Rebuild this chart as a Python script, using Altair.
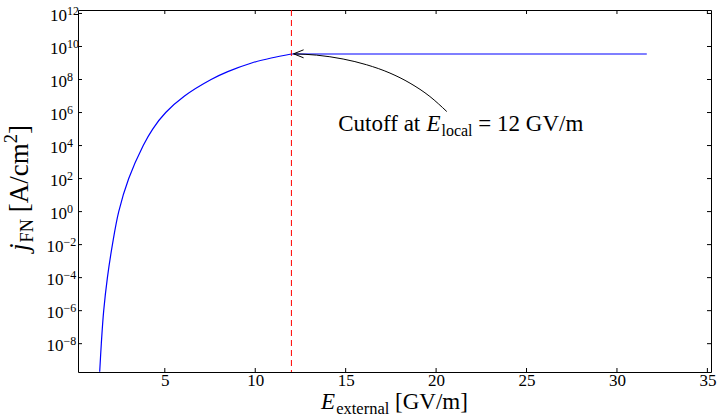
import altair as alt
import pandas as pd

# ---- data ----
E_rise = [1.40, 1.489, 1.621, 1.826, 2.103, 2.452, 3.005, 3.807, 4.33, 5.05, 6.09,
          7.559, 8.48, 9.80, 10.88, 12.0]
j_rise = [2.0e-10, 1e-8, 1e-6, 1e-4, 1e-2, 1.0, 1e2, 1e4, 1e5, 1e6, 1e7,
          1e8, 3.0e8, 1.0e9, 2.0e9, 3.5e9]
E_flat = [12.0, 31.65]
j_flat = [3.5e9, 3.5e9]

cutoff_E = 12
x_ticks = [5, 10, 15, 20, 25, 30, 35]
y_exps = [-8, -6, -4, -2, 0, 2, 4, 6, 8, 10, 12]

arrow_E = [20.59, 19.66, 18.56, 17.45, 16.16, 14.86, 13.39, 12.12]
arrow_j = [1.15e6, 9.3e6, 6.0e7, 2.45e8, 7.8e8, 1.74e9, 3.0e9, 3.6e9]
tip_E = [12.12]
tip_j = [3.6e9]
label_E = [14.59]
label_j = [8.1e4]

# ---- layout / style ----
W, H = 633, 362
FONT = "'Liberation Serif', 'Times New Roman', 'DejaVu Serif', serif"
xscale = alt.Scale(domain=[0.2, 35.2], nice=False, zero=False)
yscale = alt.Scale(type="log", domain=[10 ** -9.715, 10 ** 12.21], nice=False)
xaxis = alt.Axis(values=x_ticks, title=None, domain=False, ticks=False, grid=False,
                 labelFont=FONT, labelFontSize=17, labelColor="black", labelPadding=0)

# Times-like advance widths (per 1000 em) for composing mixed-style texts
CW = {' ': 250, '[': 333, ']': 333, '/': 278, '=': 564, 'A': 722, 'C': 667, 'E': 611,
      'F': 556, 'G': 722, 'N': 722, 'V': 722, 'a': 444, 'c': 444, 'e': 444, 'f': 333,
      'l': 278, 'm': 778, 'n': 500, 'o': 500, 'r': 333, 't': 278, 'u': 500, 'x': 500,
      'j': 278}
for d in "0123456789":
    CW[d] = 500


def tw(s, size):
    return sum(CW[c] for c in s) / 1000 * size


def compose(segments, center):
    """segments: (text, size, italic, dy) -> (text, size, italic, dy, dx)"""
    total = sum(tw(t, s) + (1 if it else 0) for t, s, it, dy in segments)
    off = -total / 2 if center else 0
    out = []
    for t, s, it, dy in segments:
        stripped = t.lstrip(" ")
        lead = tw(t[:len(t) - len(stripped)], s)
        out.append((stripped, s, it, dy, off + lead))
        off += tw(t, s) + (1 if it else 0)
    return out


rise_df = pd.DataFrame({"E": E_rise, "j": j_rise})
flat_df = pd.DataFrame({"E": E_flat, "j": j_flat})
arrow_df = pd.DataFrame({"E": arrow_E, "j": arrow_j})
tip_df = pd.DataFrame({"E": tip_E, "j": tip_j})
label_df = pd.DataFrame({"E": label_E, "j": label_j})
xt_df = pd.DataFrame({"x": x_ticks})
yt_df = pd.DataFrame({"val": [10.0 ** e for e in y_exps],
                      "exp": [("\u2212" + str(-e)) if e < 0 else str(e) for e in y_exps],
                      "neg": [e < 0 for e in y_exps]})

layers = []

# blue FN curve (rise up to the cutoff, then flat)
layers.append(alt.Chart(rise_df).mark_line(color="#0000ff", strokeWidth=1.2,
                                           interpolate="catmull-rom", clip=True).encode(
    x=alt.X("E:Q", scale=xscale, axis=xaxis),
    y=alt.Y("j:Q", scale=yscale, axis=None)))
layers.append(alt.Chart(flat_df).mark_line(color="#0000ff", strokeWidth=1.2).encode(
    x=alt.X("E:Q", scale=xscale, axis=xaxis),
    y=alt.Y("j:Q", scale=yscale, axis=None)))

# red dashed cutoff
layers.append(alt.Chart(pd.DataFrame({"E": [cutoff_E]})).mark_rule(
    color="#ff0000", strokeWidth=1, strokeDash=[6, 4]).encode(
    x=alt.X("E:Q", scale=xscale, axis=xaxis)))

# arrow
layers.append(alt.Chart(arrow_df).mark_line(color="black", strokeWidth=1,
                                            interpolate="monotone").encode(
    x=alt.X("E:Q", scale=xscale, axis=xaxis),
    y=alt.Y("j:Q", scale=yscale, axis=None)))
layers.append(alt.Chart(tip_df).mark_point(
    shape="M 2 -0.8 L 0 0 L 2 0.8", size=100, filled=False, color="black",
    strokeWidth=1, opacity=1).encode(
    x=alt.X("E:Q", scale=xscale, axis=xaxis),
    y=alt.Y("j:Q", scale=yscale, axis=None)))

# inward ticks on all four sides
for y0, y1 in [(H, H - 4), (0, 4)]:
    layers.append(alt.Chart(xt_df).mark_rule(color="black", strokeWidth=1).encode(
        x=alt.X("x:Q", scale=xscale, axis=xaxis),
        y=alt.value(y0), y2=alt.value(y1)))
for x0, x1 in [(0, 4), (W, W - 4)]:
    layers.append(alt.Chart(yt_df).mark_rule(color="black", strokeWidth=1).encode(
        y=alt.Y("val:Q", scale=yscale, axis=None),
        x=alt.value(x0), x2=alt.value(x1)))

# y tick labels 10^n
for neg, xpos in [(False, -11), (True, -14.5)]:
    sub = yt_df[yt_df["neg"] == neg]
    layers.append(alt.Chart(sub).mark_text(
        align="right", baseline="alphabetic", dy=7.4, font=FONT, fontSize=17,
        color="black").encode(
        y=alt.Y("val:Q", scale=yscale, axis=None), x=alt.value(xpos),
        text=alt.value("10")))
    layers.append(alt.Chart(sub).mark_text(
        align="left", baseline="alphabetic", dy=1.5, font=FONT, fontSize=12,
        color="black").encode(
        y=alt.Y("val:Q", scale=yscale, axis=None), x=alt.value(xpos),
        text="exp:N"))

# annotation text
ann = compose([("Cutoff at ", 23, False, 0), ("E", 23, True, 0),
               ("local", 16, False, 5), (" = 12 GV/m", 23, False, 0)], center=False)
for t, s, it, dy, off in ann:
    layers.append(alt.Chart(label_df).mark_text(
        align="left", baseline="alphabetic", dx=off, dy=dy, font=FONT, fontSize=s,
        fontStyle="italic" if it else "normal", color="black").encode(
        x=alt.X("E:Q", scale=xscale, axis=xaxis),
        y=alt.Y("j:Q", scale=yscale, axis=None),
        text=alt.value(t)))

# x axis title
xt = compose([("E", 23, True, 0), ("external", 16.5, False, 4.5),
              (" [GV/m]", 23, False, 0)], center=True)
for t, s, it, dy, off in xt:
    layers.append(alt.Chart(label_df).mark_text(
        align="left", baseline="alphabetic", dx=off, dy=dy, font=FONT, fontSize=s,
        fontStyle="italic" if it else "normal", color="black").encode(
        x=alt.value(W / 2), y=alt.value(399), text=alt.value(t)))

# y axis title (rotated)
yt = compose([("j", 27, True, 0), ("FN", 18.5, False, 5), (" [A/cm", 27, False, 0),
              ("2", 18.5, False, -11), ("]", 27, False, 0)], center=True)
for t, s, it, dy, off in yt:
    layers.append(alt.Chart(label_df).mark_text(
        align="left", baseline="alphabetic", angle=270, dx=off, dy=dy, font=FONT,
        fontSize=s, fontStyle="italic" if it else "normal", color="black").encode(
        x=alt.value(-50), y=alt.value(H / 2 - 3), text=alt.value(t)))

chart = alt.layer(*layers).properties(
    width=W, height=H,
    padding={"left": 78, "top": 10, "right": 7, "bottom": 44},
    autosize=alt.AutoSizeParams(type="none"),
    background="white",
).configure_view(stroke="black", strokeWidth=1)

chart.save("out.html", embed_options={"renderer": "svg", "actions": False})
